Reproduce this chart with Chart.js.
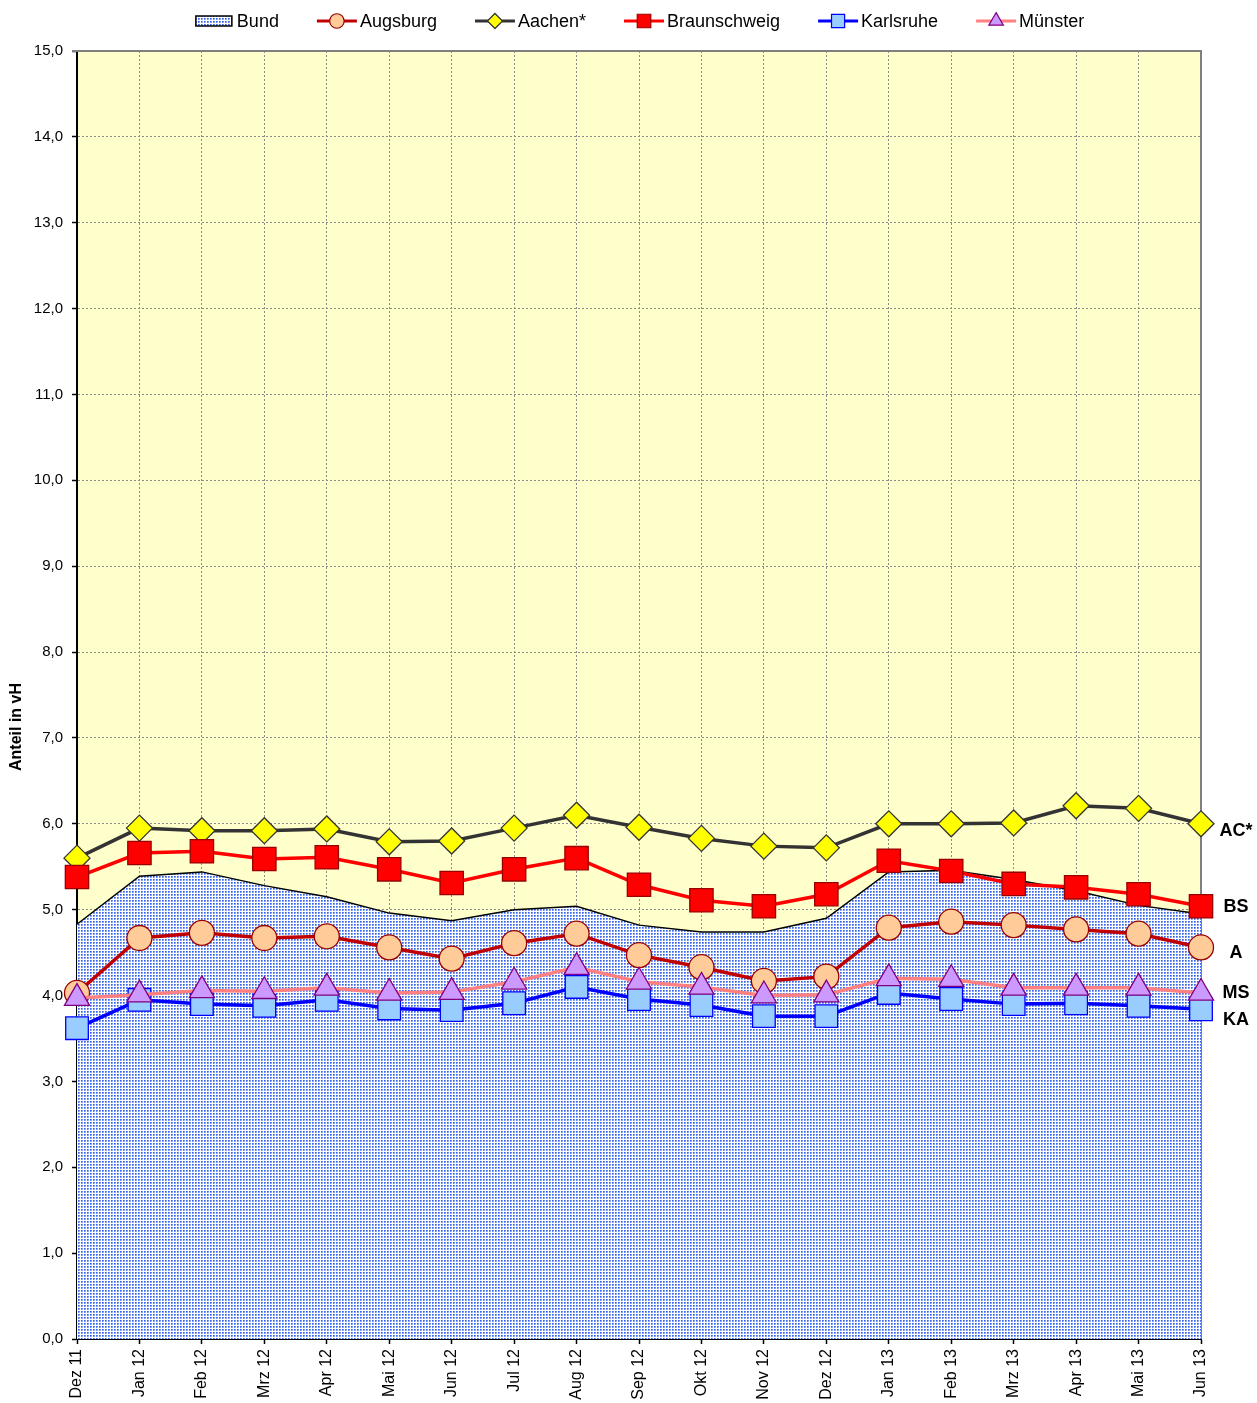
<!DOCTYPE html>
<html>
<head>
<meta charset="utf-8">
<script src="https://cdn.jsdelivr.net/npm/chart.js@4.4.1/dist/chart.umd.min.js"></script>
<style>
  body { margin: 0; background: #fff; }
  #wrap { width: 1257px; height: 1403px; position: relative; }
</style>
</head>
<body>
<div id="wrap"><canvas id="chart"></canvas></div>
<script>
// months on the x axis
var months = ['Dez 11', 'Jan 12', 'Feb 12', 'Mrz 12', 'Apr 12', 'Mai 12', 'Jun 12', 'Jul 12', 'Aug 12',
  'Sep 12', 'Okt 12', 'Nov 12', 'Dez 12', 'Jan 13', 'Feb 13', 'Mrz 13', 'Apr 13', 'Mai 13', 'Jun 13'];

// values (Anteil in vH)
var bund         = [4.83, 5.39, 5.44, 5.28, 5.15, 4.96, 4.87, 5.00, 5.04, 4.82, 4.74, 4.74, 4.90, 5.44, 5.46, 5.35, 5.22, 5.05, 4.95];
var augsburg     = [4.03, 4.67, 4.73, 4.67, 4.69, 4.56, 4.43, 4.61, 4.72, 4.47, 4.33, 4.17, 4.22, 4.79, 4.86, 4.82, 4.77, 4.72, 4.56];
var aachen       = [5.60, 5.95, 5.92, 5.92, 5.94, 5.79, 5.80, 5.95, 6.10, 5.96, 5.83, 5.74, 5.72, 6.00, 6.00, 6.01, 6.21, 6.18, 6.00];
var braunschweig = [5.38, 5.66, 5.68, 5.59, 5.61, 5.47, 5.31, 5.47, 5.60, 5.29, 5.11, 5.04, 5.18, 5.57, 5.45, 5.30, 5.26, 5.18, 5.04];
var karlsruhe    = [3.62, 3.95, 3.90, 3.88, 3.95, 3.85, 3.83, 3.91, 4.10, 3.96, 3.89, 3.76, 3.76, 4.03, 3.96, 3.90, 3.91, 3.88, 3.84];
var muenster     = [3.97, 4.01, 4.06, 4.05, 4.09, 4.03, 4.04, 4.16, 4.33, 4.16, 4.10, 4.00, 4.01, 4.20, 4.19, 4.09, 4.09, 4.09, 4.03];

// short names at the right edge and the height they sit at
var endLabels = ['AC*', 'BS', 'A', 'MS', 'KA'];
var endLabelValues = [5.91, 5.03, 4.50, 4.03, 3.71];

// dotted blue fill like the Excel pattern
function makePattern() {
  var p = document.createElement('canvas');
  p.width = 3; p.height = 3;
  var c = p.getContext('2d');
  c.fillStyle = '#ffffff';
  c.fillRect(0, 0, 3, 3);
  c.fillStyle = '#3a64e8'; c.fillRect(0, 0, 1, 1);
  c.fillStyle = '#6c8ef0'; c.fillRect(1, 0, 1, 1); c.fillRect(0, 1, 1, 1);
  c.fillStyle = '#9fb5f5'; c.fillRect(1, 1, 1, 1);
  return document.getElementById('chart').getContext('2d').createPattern(p, 'repeat');
}
var pattern = makePattern();

function lineSet(label, data, color, style, radius, fill, border, order) {
  return {
    label: label, data: data, borderColor: color, borderWidth: 3.5,
    pointStyle: style, pointRadius: radius, pointBackgroundColor: fill,
    pointBorderColor: border, pointBorderWidth: 1.3, tension: 0, fill: false,
    clip: false, order: order
  };
}

var datasets = [
  { label: 'Bund', data: bund, fill: 'origin', backgroundColor: pattern, borderColor: '#000',
    borderWidth: 1.5, pointRadius: 0, tension: 0, order: 6 },
  lineSet('Augsburg', augsburg, '#C00000', 'circle', 12.5, '#FFCC99', '#990000', 5),
  lineSet('Aachen*', aachen, '#333333', 'rectRot', 13, '#FFFF00', '#333333', 4),
  lineSet('Braunschweig', braunschweig, '#FF0000', 'rect', 16.5, '#FF0000', '#990000', 3),
  lineSet('Karlsruhe', karlsruhe, '#0000FF', 'rect', 16, '#99CCFF', '#0000FF', 2),
  lineSet('Münster', muenster, '#FF8080', 'triangle', 14.5, '#CC99FF', '#800080', 1)
];

var FONT = 'Arial, "Liberation Sans", sans-serif';

// yellow plot background and grey frame
var plotFrame = {
  id: 'plotFrame',
  beforeDraw: function(chart) {
    var a = chart.chartArea, ctx = chart.ctx;
    ctx.save();
    ctx.fillStyle = '#FFFFCC';
    ctx.fillRect(a.left, a.top, a.right - a.left, a.bottom - a.top);
    ctx.restore();
  },
  beforeDatasetsDraw: function(chart) {
    var a = chart.chartArea, ctx = chart.ctx;
    ctx.save();
    ctx.strokeStyle = '#808080';
    ctx.lineWidth = 2;
    ctx.beginPath();
    ctx.moveTo(a.left - 5, a.top); ctx.lineTo(a.right, a.top); ctx.lineTo(a.right, a.bottom);
    ctx.stroke();
    ctx.restore();
  }
};

// legend, y title and right-hand labels
var extras = {
  id: 'extras',
  afterDraw: function(chart) {
    var ctx = chart.ctx, a = chart.chartArea;
    var yScale = chart.scales.y;
    ctx.save();

    // legend
    ctx.font = '18px ' + FONT;
    var symW = 40, gap = 3, itemGap = 38;
    var widths = datasets.map(function(d) { return symW + gap + ctx.measureText(d.label).width; });
    var total = widths.reduce(function(s, w) { return s + w; }, 0) + itemGap * (datasets.length - 1);
    var x = (a.left + a.right) / 2 - total / 2;
    var y = 21;
    datasets.forEach(function(d, i) {
      if (d.fill === 'origin') {
        ctx.fillStyle = pattern;
        ctx.fillRect(x + 2, y - 5, 36, 10);
        ctx.strokeStyle = '#000'; ctx.lineWidth = 1.5;
        ctx.strokeRect(x + 2, y - 5, 36, 10);
      } else {
        ctx.strokeStyle = d.borderColor; ctx.lineWidth = 3;
        ctx.beginPath(); ctx.moveTo(x, y); ctx.lineTo(x + symW, y); ctx.stroke();
        ctx.fillStyle = d.pointBackgroundColor; ctx.strokeStyle = d.pointBorderColor; ctx.lineWidth = 1.2;
        Chart.helpers.drawPoint(ctx, { pointStyle: d.pointStyle, radius: d.pointRadius * 0.58, rotation: 0, borderWidth: 1.2 }, x + symW / 2, y);
      }
      ctx.fillStyle = '#000';
      ctx.textAlign = 'left'; ctx.textBaseline = 'middle';
      ctx.fillText(d.label, x + symW + gap, y + 1);
      x += widths[i] + itemGap;
    });

    // y axis title
    ctx.save();
    ctx.translate(17, (a.top + chart.height) / 2);
    ctx.rotate(-Math.PI / 2);
    ctx.font = 'bold 16px ' + FONT;
    ctx.textAlign = 'center'; ctx.textBaseline = 'middle';
    ctx.fillStyle = '#000';
    ctx.fillText('Anteil in vH', 0, 0);
    ctx.restore();

    // short names at the right
    ctx.font = 'bold 18px ' + FONT;
    ctx.textAlign = 'center'; ctx.textBaseline = 'middle';
    ctx.fillStyle = '#000';
    endLabels.forEach(function(t, i) {
      ctx.fillText(t, a.right + 35, yScale.getPixelForValue(endLabelValues[i]));
    });
    ctx.restore();
  }
};

new Chart(document.getElementById('chart'), {
  type: 'line',
  data: { labels: months, datasets: datasets },
  options: {
    responsive: true,
    maintainAspectRatio: false,
    animation: false,
    events: [],
    layout: { padding: { top: 51, right: 56, left: 0, bottom: 0 } },
    plugins: { legend: { display: false }, tooltip: { enabled: false } },
    scales: {
      x: {
        type: 'category',
        offset: false,
        grid: { color: '#8c8c8c', lineWidth: 1, tickLength: 5, tickColor: '#000', tickWidth: 1.5 },
        border: { color: '#000', width: 2, dash: [2, 2] },
        ticks: { color: '#000', font: { size: 16, family: FONT }, minRotation: 90, maxRotation: 90, autoSkip: false, padding: 5 },
        afterFit: function(s) { s.height = 64; }
      },
      y: {
        min: 0, max: 15,
        grid: { color: '#8c8c8c', lineWidth: 1, tickLength: 5, tickColor: '#000', tickWidth: 1.5 },
        border: { color: '#000', width: 2, dash: [2, 2] },
        ticks: {
          stepSize: 1, color: '#000', padding: 9,
          font: { size: 15, family: FONT },
          callback: function(v) { return v.toFixed(1).replace('.', ','); }
        },
        afterFit: function(s) { s.width = 77; }
      }
    }
  },
  plugins: [plotFrame, extras]
});
</script>
</body>
</html>
